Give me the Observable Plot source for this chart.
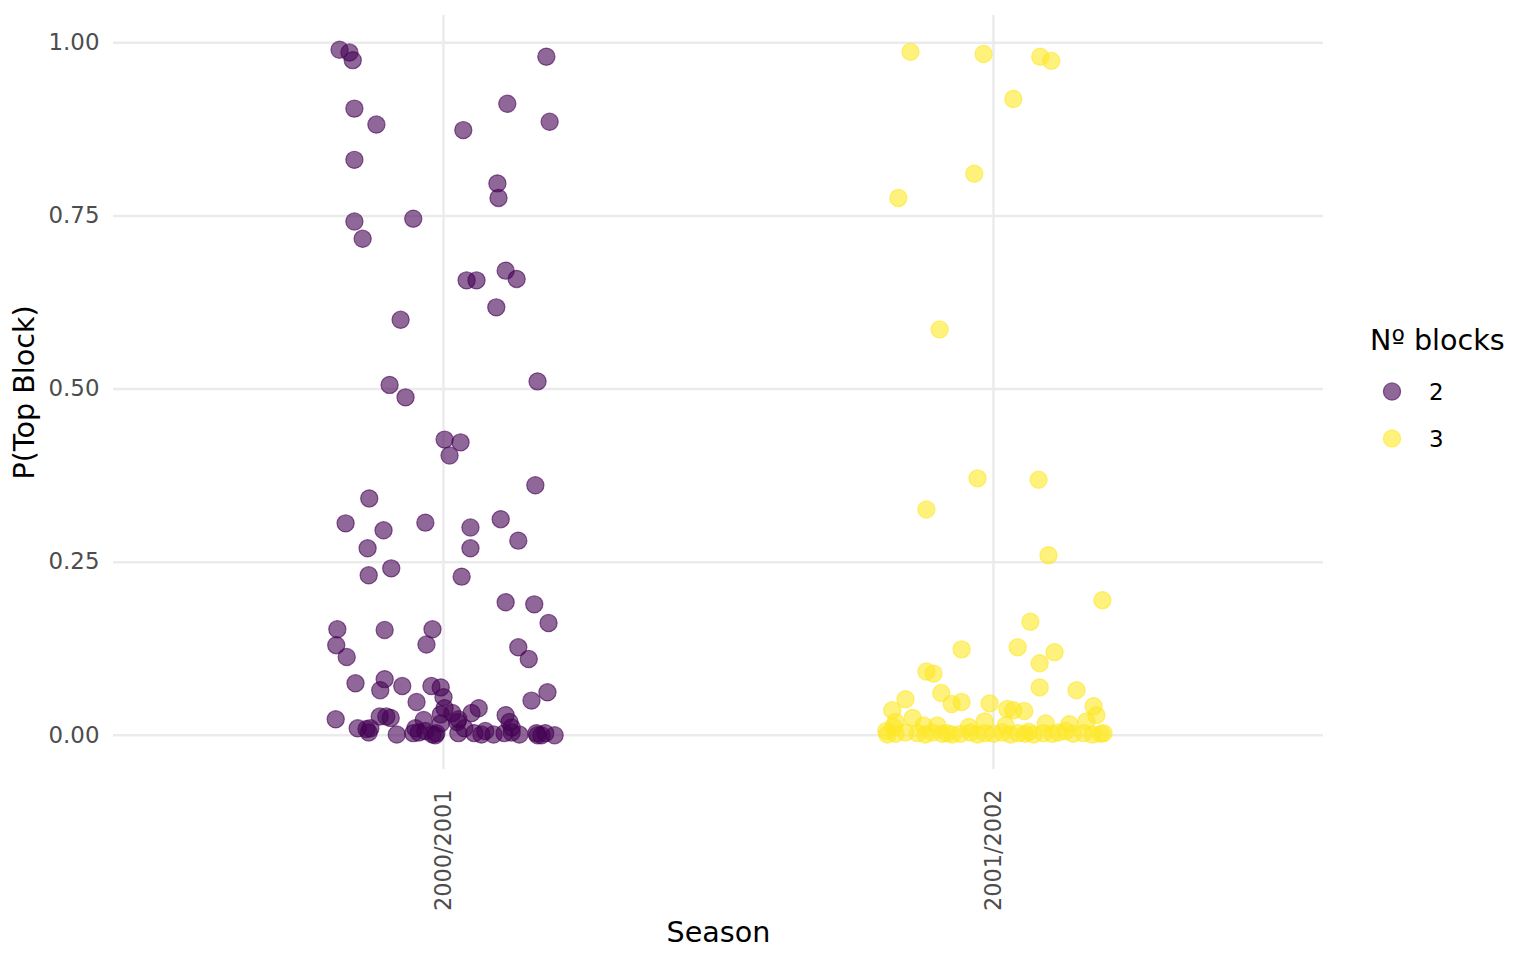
<!DOCTYPE html>
<html>
<head>
<meta charset="utf-8">
<script src="https://cdn.jsdelivr.net/npm/d3@7"></script>
<script src="https://cdn.jsdelivr.net/npm/@observablehq/plot@0.6"></script>
<style>
  html, body { margin: 0; padding: 0; background: #fff; }
  #wrap { position: relative; width: 1536px; height: 960px; font-family: "DejaVu Sans", sans-serif; }
  #legend { position: absolute; left: 1370px; top: 322px; }
  #legend .title { font-size: 28.6px; color: #000; line-height: 36px; margin-bottom: 10px; }
  #legend .row { display: flex; align-items: center; height: 47px; }
  #legend .row span { font-size: 22.9px; color: #000; margin-left: 15px; }
</style>
</head>
<body>
<div id="wrap"><div id="chart"></div><div id="legend"></div></div>
<script>
const seasons = ["2000/2001", "2001/2002"];
const blockLabels = ["2", "3"];
const blockColors = ["#440154", "#FDE725"];
const yTicks = [0, 0.25, 0.5, 0.75, 1];

// Season 2000/2001 (Nº blocks = 2): horizontal jitter (category units) and P(Top Block)
const s1Jitter = [-0.189,-0.171,-0.165,0.187,-0.162,0.116,-0.122,0.193,0.036,-0.162,
  0.098,0.100,-0.162,-0.055,-0.147,0.113,0.042,0.060,0.133,0.096,
  -0.078,-0.098,0.171,-0.069,0.002,0.031,0.011,0.167,-0.135,-0.178,
  -0.033,-0.109,0.049,0.104,0.136,-0.138,0.049,-0.095,-0.136,0.033,
  0.113,0.165,0.191,-0.193,-0.020,-0.107,-0.195,-0.031,0.136,-0.176,
  0.155,-0.160,-0.107,-0.115,-0.075,-0.022,-0.005,0.000,0.189,-0.049,
  0.160,0.002,0.064,0.051,-0.005,-0.196,-0.116,-0.104,-0.096,-0.036,
  0.027,0.113,-0.005,0.120,-0.156,-0.133,-0.136,-0.085,-0.055,-0.051,
  -0.033,-0.020,-0.015,0.038,0.056,0.069,0.076,0.091,0.111,0.124,
  0.124,0.138,0.169,0.178,0.185,0.202,0.171,0.027,-0.013,-0.140,
  -0.045,0.016,0.025];
const s1Values = [0.990,0.986,0.975,0.980,0.905,0.912,0.882,0.886,0.874,0.831,
  0.797,0.776,0.742,0.746,0.717,0.671,0.657,0.657,0.659,0.618,
  0.600,0.506,0.511,0.488,0.427,0.423,0.404,0.361,0.342,0.306,
  0.307,0.296,0.300,0.312,0.281,0.270,0.270,0.241,0.231,0.229,
  0.192,0.189,0.162,0.153,0.153,0.152,0.130,0.131,0.127,0.113,
  0.110,0.075,0.081,0.065,0.071,0.071,0.069,0.055,0.062,0.048,
  0.050,0.039,0.039,0.032,0.030,0.023,0.027,0.027,0.025,0.022,
  0.023,0.029,0.017,0.019,0.010,0.010,0.004,0.001,0.003,0.010,
  0.006,0.001,0.000,0.010,0.003,0.001,0.006,0.001,0.003,0.011,
  0.004,0.001,0.003,0.000,0.003,0.000,0.000,0.003,0.003,0.009,
  0.004,0.032,0.019];

// Season 2001/2002 (Nº blocks = 3)
const s2Jitter = [-0.151,-0.018,0.085,0.105,0.036,-0.035,-0.173,-0.098,-0.029,0.082,
  -0.122,0.100,0.198,0.067,-0.058,0.044,0.111,0.084,-0.122,-0.109,
  0.084,0.151,-0.095,-0.160,-0.076,-0.058,-0.007,0.025,0.036,0.056,
  0.182,-0.184,-0.147,0.187,-0.178,-0.045,-0.016,0.138,0.169,-0.195,
  0.200,0.022,0.095,-0.127,-0.102,-0.182,-0.178,-0.138,-0.124,-0.111,
  -0.093,-0.084,-0.060,-0.042,-0.029,-0.015,0.000,0.016,0.031,0.045,
  0.058,0.073,0.091,0.107,0.118,0.145,0.164,0.180,0.195,-0.193,
  -0.160,-0.075,0.064,0.131];
const s2Values = [0.987,0.984,0.980,0.974,0.919,0.811,0.776,0.586,0.371,0.369,
  0.326,0.260,0.195,0.164,0.124,0.127,0.120,0.104,0.092,0.089,
  0.069,0.065,0.061,0.052,0.045,0.048,0.046,0.038,0.036,0.035,
  0.042,0.036,0.025,0.029,0.019,0.012,0.020,0.016,0.020,0.006,
  0.003,0.014,0.017,0.014,0.014,0.012,0.002,0.003,0.001,0.004,
  0.002,0.003,0.002,0.004,0.001,0.003,0.002,0.004,0.001,0.003,
  0.002,0.001,0.003,0.002,0.004,0.002,0.003,0.001,0.002,0.001,
  0.004,0.001,0.005,0.006];

const points = [
  ...s1Values.map((v, i) => ({season: 1, jitter: s1Jitter[i], value: v, block: blockLabels[0]})),
  ...s2Values.map((v, i) => ({season: 2, jitter: s2Jitter[i], value: v, block: blockLabels[1]}))
];

const chart = Plot.plot({
  width: 1536,
  height: 960,
  marginLeft: 113,
  marginRight: 213,
  marginTop: 15,
  marginBottom: 191,
  style: {fontFamily: "DejaVu Sans, sans-serif", background: "#fff"},
  x: {domain: [0.4, 2.6]},
  y: {domain: [-0.0495, 1.0395]},
  color: {domain: blockLabels, range: blockColors},
  marks: [
    Plot.gridY(yTicks, {stroke: "#EBEBEB", strokeOpacity: 1, strokeWidth: 2.5}),
    Plot.gridX([1, 2], {stroke: "#EBEBEB", strokeOpacity: 1, strokeWidth: 2.5}),
    Plot.axisY(yTicks, {
      tickSize: 0, tickPadding: 14, fontSize: 22.9, fill: "#4D4D4D",
      tickFormat: d3.format(".2f"),
      label: null
    }),
    Plot.axisY([], {
      tickSize: 0, fontSize: 28.6, fill: "#000",
      label: "P(Top Block)", labelAnchor: "center", labelOffset: 100, labelArrow: "none"
    }),
    Plot.axisX([1, 2], {
      tickSize: 0, tickPadding: 20, fontSize: 22.4, fill: "#4D4D4D", tickRotate: -90,
      tickFormat: d => seasons[d - 1],
      label: null
    }),
    Plot.axisX([], {
      tickSize: 0, fontSize: 28.6, fill: "#000",
      label: "Season", labelAnchor: "center", labelOffset: 172, labelArrow: "none"
    }),
    Plot.dot(points, {
      x: d => d.season + d.jitter,
      y: "value",
      fill: "block",
      stroke: "block",
      r: 8.6,
      fillOpacity: 0.6,
      strokeOpacity: 0.6,
      strokeWidth: 1.2
    })
  ]
});
document.getElementById("chart").appendChild(chart);

// Legend
const legend = document.getElementById("legend");
const title = document.createElement("div");
title.className = "title";
title.textContent = "Nº blocks";
legend.appendChild(title);
blockLabels.forEach((b, i) => {
  const row = document.createElement("div");
  row.className = "row";
  row.innerHTML = `<svg width="44" height="47"><circle cx="22" cy="23.5" r="8.6" fill="${blockColors[i]}" stroke="${blockColors[i]}" fill-opacity="0.6" stroke-opacity="0.6" stroke-width="1.2"></circle></svg><span>${b}</span>`;
  legend.appendChild(row);
});
</script>
</body>
</html>
